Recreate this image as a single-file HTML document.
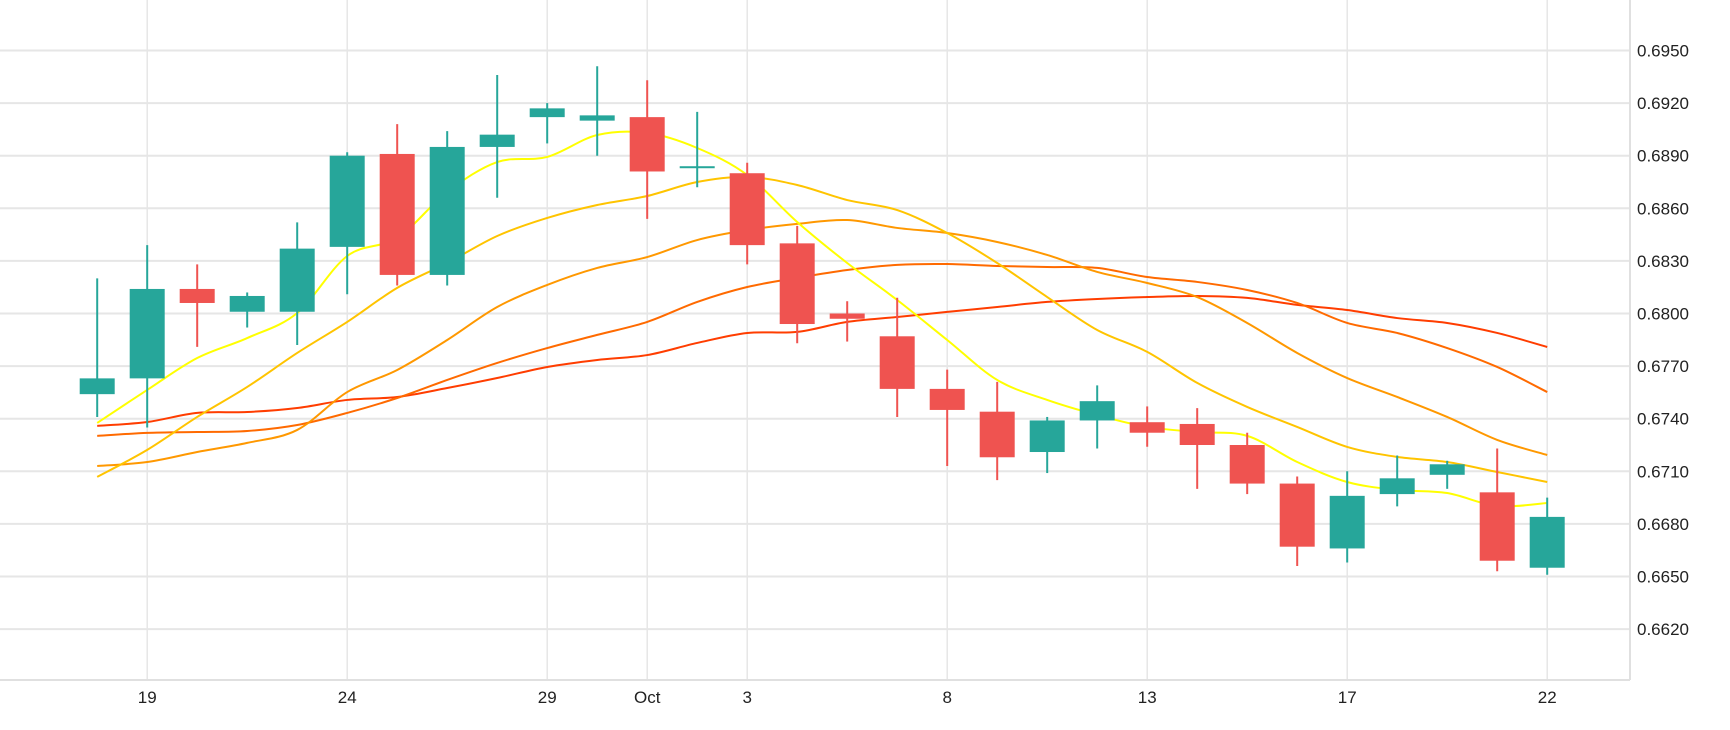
<!DOCTYPE html>
<html><head><meta charset="utf-8"><style>
html,body{margin:0;padding:0;background:#fff;}
svg{display:block;font-family:"Liberation Sans",sans-serif;}
</style></head><body>
<svg id="chart" width="1730" height="730" viewBox="0 0 1730 730" xmlns="http://www.w3.org/2000/svg">
<g id="grid"></g>
<g id="lines"></g>
<g id="candles"></g>
<g id="axes"></g>
</svg>
<script>
const openV=[.6754,.6763,.6814,.6801,.6801,.6838,.6891,.6822,.6895,.6912,.6910,.6912,.6883,.6880,.6840,.6800,.6787,.6757,.6744,.6721,.6739,.6738,.6737,.6725,.6703,.6666,.6697,.6708,.6698,.6655];
const highV=[.6820,.6839,.6828,.6812,.6852,.6892,.6908,.6904,.6936,.6920,.6941,.6933,.6915,.6886,.6850,.6807,.6809,.6768,.6761,.6741,.6759,.6747,.6746,.6732,.6707,.6710,.6719,.6716,.6723,.6695];
const lowV=[.6741,.6735,.6781,.6792,.6782,.6811,.6816,.6816,.6866,.6897,.6890,.6854,.6872,.6828,.6783,.6784,.6741,.6713,.6705,.6709,.6723,.6724,.6700,.6697,.6656,.6658,.6690,.6700,.6653,.6651];
const closeV=[.6763,.6814,.6806,.6810,.6837,.6890,.6822,.6895,.6902,.6917,.6913,.6881,.6884,.6839,.6794,.6797,.6757,.6745,.6718,.6739,.6750,.6732,.6725,.6703,.6667,.6696,.6706,.6714,.6659,.6684];
const ma5=[.67376,.67564,.67746,.67860,.68003,.68328,.68431,.68693,.68864,.68893,.69018,.69030,.68944,.68790,.68522,.68288,.68077,.67849,.67621,.67507,.67421,.67353,.67324,.67302,.67153,.67039,.66994,.66976,.66902,.66919];
const ma10=[.67068,.67222,.67410,.67581,.67775,.67952,.68146,.68288,.68442,.68545,.68619,.68670,.68750,.68779,.68733,.68647,.68590,.68459,.68288,.68094,.67906,.67781,.67604,.67467,.67353,.67239,.67182,.67153,.67096,.67039];
const ma20=[.67130,.67153,.67210,.67262,.67336,.67552,.67678,.67849,.68037,.68163,.68260,.68322,.68419,.68476,.68511,.68533,.68488,.68459,.68408,.68334,.68237,.68174,.68094,.67946,.67775,.67632,.67524,.67410,.67279,.67193];
const ma30=[.67302,.67319,.67324,.67330,.67364,.67433,.67518,.67621,.67718,.67803,.67878,.67952,.68066,.68151,.68203,.68248,.68277,.68282,.68271,.68265,.68260,.68208,.68180,.68134,.68060,.67946,.67889,.67803,.67695,.67552];
const ma60=[.67359,.67381,.67433,.67438,.67461,.67507,.67524,.67575,.67632,.67695,.67735,.67763,.67832,.67889,.67895,.67952,.67980,.68009,.68037,.68066,.68083,.68094,.68100,.68089,.68049,.68020,.67974,.67946,.67889,.67809];
const xTickIdx=[1,5,9,11,13,17,21,25,29];
const xTickLabels=["19","24","29","Oct","3","8","13","17","22"];
const yTicks=[0.6620,0.6650,0.6680,0.6710,0.6740,0.6770,0.6800,0.6830,0.6860,0.6890,0.6920,0.6950];

const NS="http://www.w3.org/2000/svg";
function xs(i){return 97.2+50.0*i;}
function ys(v){return 50.5+(0.695-v)/0.003*52.6;}
function mk(tag,attrs,parent){const e=document.createElementNS(NS,tag);for(const k in attrs)e.setAttribute(k,attrs[k]);parent.appendChild(e);return e;}
const grid=document.getElementById('grid'),axes=document.getElementById('axes'),lines=document.getElementById('lines'),candles=document.getElementById('candles');
const R=1630,B=680;
yTicks.forEach(v=>{
  const l=mk('line',{x1:0,x2:R,y1:ys(v),y2:ys(v),stroke:'#e6e6e6','stroke-width':2},grid);
  
  
  const t=mk('text',{x:1637,y:ys(v)+6,'font-size':17,fill:'#222'},axes);
  t.textContent=v.toFixed(4);
  
  
});
xTickIdx.forEach((ix,k)=>{
  const l=mk('line',{x1:xs(ix),x2:xs(ix),y1:0,y2:B,stroke:'#e6e6e6','stroke-width':1.5},grid);
  
  
  const t=mk('text',{x:xs(ix),y:703,'font-size':17,fill:'#222','text-anchor':'middle'},axes);
  t.textContent=xTickLabels[k];
  
  
});
const ax1=mk('line',{x1:R,x2:R,y1:0,y2:B,stroke:'#e0e0e0','stroke-width':2},axes);


const ax2=mk('line',{x1:0,x2:R,y1:B,y2:B,stroke:'#e0e0e0','stroke-width':2},axes);



function smooth(vals){
  const p=vals.map((v,i)=>[xs(i),ys(v)]);
  let d='M'+p[0][0]+','+p[0][1];
  for(let i=0;i<p.length-1;i++){
    const p0=p[i-1]||p[i],p1=p[i],p2=p[i+1],p3=p[i+2]||p[i+1];
    const c1=[p1[0]+(p2[0]-p0[0])/6,p1[1]+(p2[1]-p0[1])/6];
    const c2=[p2[0]-(p3[0]-p1[0])/6,p2[1]-(p3[1]-p1[1])/6];
    d+=' C'+c1[0]+','+c1[1]+' '+c2[0]+','+c2[1]+' '+p2[0]+','+p2[1];
  }
  return d;
}
[[ma60,'#ff3d00','ma60-line'],[ma30,'#ff6a00','ma30-line'],[ma20,'#ff9800','ma20-line'],[ma10,'#ffc400','ma10-line'],[ma5,'#ffff00','ma5-line']].forEach(s=>{
  const p=mk('path',{d:smooth(s[0]),fill:'none',stroke:s[1],'stroke-width':2},lines);
  
  
});
for(let i=0;i<openV.length;i++){
  const up=closeV[i]>=openV[i];
  const col=up?'#26a69a':'#ef5350';
  const g=mk('g',{},candles);
  
  
  mk('line',{x1:xs(i),x2:xs(i),y1:ys(highV[i]),y2:ys(lowV[i]),stroke:col,'stroke-width':2},g);
  const top=ys(Math.max(openV[i],closeV[i])),bot=ys(Math.min(openV[i],closeV[i]));
  mk('rect',{x:xs(i)-17.5,y:top,width:35,height:Math.max(bot-top,2),fill:col},g);
}
</script>
</body></html>
